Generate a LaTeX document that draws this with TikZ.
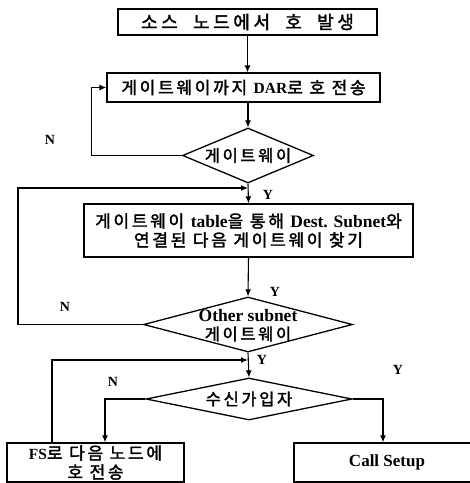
\documentclass[tikz,border=0pt]{standalone}
\usepackage{fontspec}
\setmainfont{Liberation Serif}
\newfontfamily\kr{Noto Sans CJK KR}[LetterSpace=16, FakeBold=2]
\newfontfamily\krtitle{Noto Sans CJK KR}[LetterSpace=20, WordSpace=2, FakeBold=2]
\usetikzlibrary{shapes.geometric, arrows.meta, positioning, calc}
\newcommand{\lat}[2][15.5]{{\rmfamily\bfseries\fontsize{#1}{18}\selectfont #2}}

\begin{document}
\begin{tikzpicture}[x=1pt, y=-1pt,
    procbox/.style={draw, line width=1.4pt, rectangle, inner sep=0pt, align=center,
        font=\kr\fontsize{17}{19}\selectfont},
    decbox/.style={draw, line width=1.3pt, diamond, inner sep=0pt},
    dectext/.style={align=center, font=\kr\fontsize{16.5}{18.5}\selectfont},
    arr/.style={line width=1.1pt, -{Latex[length=7pt, width=6pt]}},
    yn/.style={font=\rmfamily\bfseries\fontsize{14}{14}\selectfont}]
    \path[use as bounding box, clip] (0,0) rectangle (470,483);

    % Process boxes and decisions
    \node[procbox, minimum width=259pt, minimum height=26pt,
        font=\krtitle\fontsize{18}{20}\selectfont] (src) at (247.5,22) {소스 노드에서 호 발생};
    \node[procbox, minimum width=273pt, minimum height=29pt] (dar) at (243.5,87.5) {게이트웨이까지 \lat{DAR}로 호 전송};
    \node[decbox, minimum width=131pt, minimum height=55pt,
        label={[dectext]center:게이트웨이}] (gw) at (248,155.5) {};
    \node[procbox, minimum width=329pt, minimum height=53pt] (find) at (248.5,230.5)
        {게이트웨이 \lat[17.5]{table}을 통해 \lat[17.5]{Dest. Subnet}와\\연결된 다음 게이트웨이 찾기};
    \node[decbox, minimum width=209pt, minimum height=55pt,
        label={[dectext, yshift=-1pt]center:\lat[17.5]{Other subnet}\\게이트웨이}] (osub) at (248,324.5) {};
    \node[decbox, minimum width=206pt, minimum height=42pt,
        label={[dectext]center:수신가입자}] (dest) at (249,399) {};
    \node[procbox, minimum width=177pt, minimum height=39pt] (fs) at (95.5,462.5) {\lat{FS}로 다음 노드에\\호 전송};
    \node[procbox, minimum width=186pt, minimum height=39pt,
        font=\rmfamily\bfseries\fontsize{17}{19}\selectfont] (setup) at (387,462.5) {Call Setup};

    % Merge points of the loops
    \coordinate (m1) at (248,188);
    \coordinate (l1) at (18,188);
    \coordinate (m2) at (248,360);
    \coordinate (l2) at (52,360);

    % Connectors
    \draw[arr] (src.south) -- (src.south |- dar.north);
    \draw[arr] (gw.north |- dar.south) -- (gw.north);
    \draw[arr] (gw.west) -| ([xshift=-15pt]dar.west) -- (dar.west);
    \draw[arr] (gw.south) -- (find.north);
    \draw[arr] (osub.west) -| (l1) -- (m1);
    \draw[arr] (find.south) -- (osub.north);
    \draw[arr] (osub.south) -- (dest.north);
    \draw[arr] (fs.north -| l2) -- (l2) -- (m2);
    \draw[arr] (dest.west) -| ([xshift=9.5pt]fs.north);
    \draw[arr] (dest.east) -| ([xshift=-4pt]setup.north);

    % Branch labels
    \node[yn] (n1) at (50,140) {N};
    \node[yn] (y1) at (268,195) {Y};
    \node[yn] (y2) at (275,292) {Y};
    \node[yn] (n2) at (65,307) {N};
    \node[yn] (y3) at (262,360) {Y};
    \node[yn] (n3) at (113,382) {N};
    \node[yn] (y4) at (398,370) {Y};
\end{tikzpicture}
\end{document}
